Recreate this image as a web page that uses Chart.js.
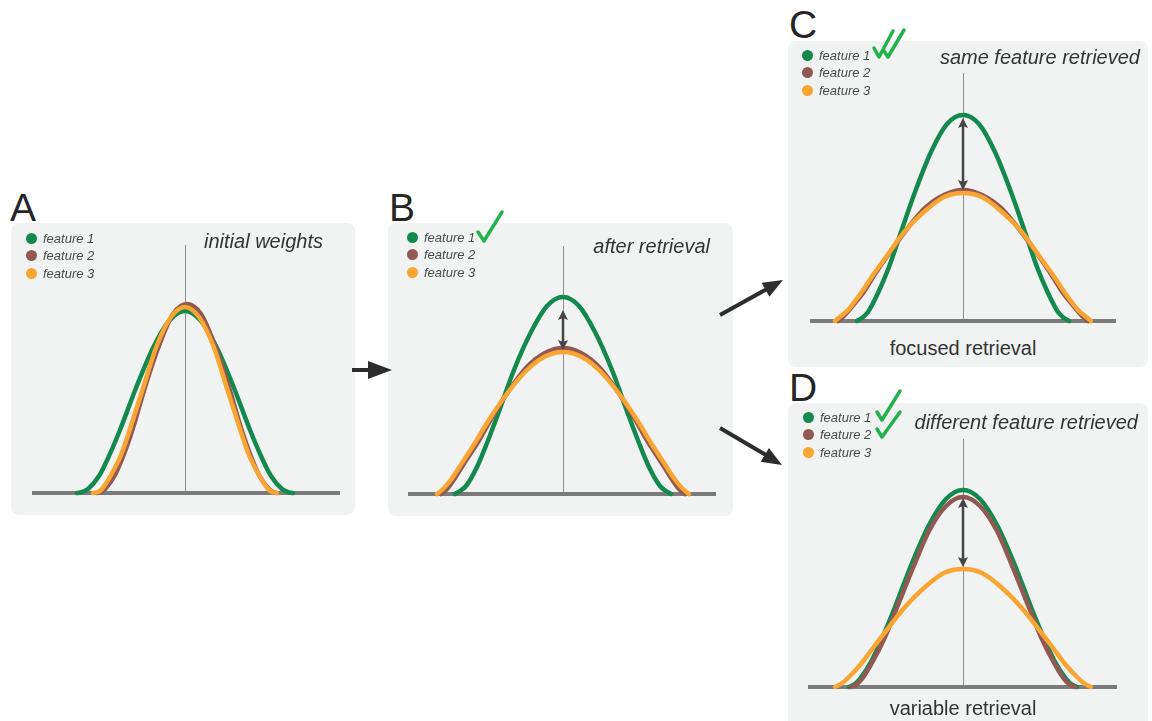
<!DOCTYPE html>
<html>
<head>
<meta charset="utf-8">
<script src="https://cdn.jsdelivr.net/npm/chart.js@4.4.0/dist/chart.umd.min.js"></script>
<style>
  html, body { margin: 0; padding: 0; background: #fff; }
  body { width: 1152px; height: 721px; position: relative; overflow: hidden; font-family: "Liberation Sans", Arial, sans-serif; color: #333; }
  .box { position: absolute; background: #f1f3f2; border-radius: 8px; }
  .plot { position: absolute; }
  .letter { position: absolute; font-size: 39px; line-height: 39px; color: #262626; }
  .legend { position: absolute; font-size: 13px; font-style: italic; color: #4a4a4a; }
  .legend div { height: 17.3px; line-height: 17px; position: relative; padding-left: 12px; }
  .legend span { position: absolute; left: -5.5px; top: 3px; width: 11px; height: 11px; border-radius: 50%; }
  .title { position: absolute; font-size: 20px; font-style: italic; line-height: 24px; color: #333; white-space: nowrap; }
  .sub { position: absolute; font-size: 20px; line-height: 24px; color: #333; white-space: nowrap; width: 300px; text-align: center; }
  svg { position: absolute; left: 0; top: 0; }
</style>
</head>
<body>

<div class="box" style="left:11px;top:223px;width:344px;height:292px;"></div>
<div class="box" style="left:388px;top:223px;width:345px;height:293px;"></div>
<div class="box" style="left:788px;top:41px;width:360px;height:326px;"></div>
<div class="box" style="left:788px;top:403px;width:360px;height:330px;"></div>

<div class="letter" style="left:10px;top:188px;">A</div>
<div class="letter" style="left:389px;top:188px;">B</div>
<div class="letter" style="left:789px;top:5px;">C</div>
<div class="letter" style="left:789px;top:368px;">D</div>

<div class="plot" style="left:22px;top:223px;"><canvas id="chartA" width="328" height="280"></canvas></div>
<div class="plot" style="left:398px;top:224px;"><canvas id="chartB" width="328" height="280"></canvas></div>
<div class="plot" style="left:800px;top:51px;"><canvas id="chartC" width="326" height="280"></canvas></div>
<div class="plot" style="left:798px;top:417px;"><canvas id="chartD" width="329" height="280"></canvas></div>

<div class="legend" style="left:31px;top:230px;">
  <div><span style="background:#13894d"></span>feature 1</div>
  <div><span style="background:#925853"></span>feature 2</div>
  <div><span style="background:#f8a531"></span>feature 3</div>
</div>
<div class="legend" style="left:412px;top:229px;">
  <div><span style="background:#13894d"></span>feature 1</div>
  <div><span style="background:#925853"></span>feature 2</div>
  <div><span style="background:#f8a531"></span>feature 3</div>
</div>
<div class="legend" style="left:807px;top:47px;">
  <div><span style="background:#13894d"></span>feature 1</div>
  <div><span style="background:#925853"></span>feature 2</div>
  <div><span style="background:#f8a531"></span>feature 3</div>
</div>
<div class="legend" style="left:808px;top:409px;">
  <div><span style="background:#13894d"></span>feature 1</div>
  <div><span style="background:#925853"></span>feature 2</div>
  <div><span style="background:#f8a531"></span>feature 3</div>
</div>

<div class="title" style="right:829px;top:229px;">initial weights</div>
<div class="title" style="right:442px;top:234px;">after retrieval</div>
<div class="title" style="right:12px;top:45px;">same feature retrieved</div>
<div class="title" style="right:14px;top:410px;">different feature retrieved</div>

<div class="sub" style="left:813px;top:336px;">focused retrieval</div>
<div class="sub" style="left:813px;top:696px;">variable retrieval</div>

<svg width="1152" height="721">
  <g fill="none" stroke="#22b24c" stroke-width="3.5" stroke-linecap="round" stroke-linejoin="round">
    <path d="M478,232 L484,241 L502,212"/>
    <path d="M874,48 L879,57 L893,31"/>
    <path d="M884,51 L888,57 L904,30"/>
    <path d="M877,412 L882,420 L900,391"/>
    <path d="M877,429 L882,437 L900,412"/>
  </g>
  <g stroke="#2d2d2d" stroke-width="4" fill="#2d2d2d">
    <line x1="352" y1="370" x2="370" y2="370"/>
    <polygon stroke="none" points="368,361 392,370 368,379"/>
    <line x1="720" y1="315" x2="767" y2="289"/>
    <polygon stroke="none" points="769.4,296.7 783,280 761.6,282.7"/>
    <line x1="720" y1="428" x2="766" y2="455"/>
    <polygon stroke="none" points="760.7,461.7 782,465 768.9,447.9"/>
  </g>
</svg>

<script>
/* ---- values: [position, weight] (0 = centre line / baseline) ---- */
// A: initial weights
const a_f1 = [[-108,0],[-103,1],[-97,4],[-86,17],[-76,37],[-65,63],[-49,105],[-32,145],[-16,172],[0,182],[16,172],[32,145],[49,105],[65,63],[76,37],[86,17],[97,4],[103,1],[108,0]];
const a_f2 = [[-88,0],[-84,1],[-79,5],[-70,18],[-61,39],[-52,65],[-39,109],[-25,150],[-12,179],[2,189],[16,179],[29,150],[43,109],[56,65],[65,39],[74,18],[83,5],[88,1],[92,0]];
const a_f3 = [[-92,0],[-87,1],[-83,4],[-74,18],[-64,38],[-55,64],[-41,108],[-28,148],[-14,176],[0,186],[14,176],[28,148],[41,108],[55,64],[64,38],[74,18],[83,4],[87,1],[92,0]];

// B: after retrieval
const b_f1 = [[-108,0],[-103,3],[-97,8],[-86,27],[-76,51],[-65,80],[-49,124],[-32,162],[-16,188],[0,197],[16,188],[32,162],[49,124],[65,80],[76,51],[86,27],[97,8],[103,3],[108,0]];
const b_f2 = [[-122,0],[-116,5],[-110,13],[-98,32],[-85,52],[-73,73],[-55,102],[-37,126],[-18,141],[0,146],[18,141],[37,126],[55,102],[73,73],[85,52],[98,32],[110,13],[116,5],[122,0]];
const b_f3 = [[-126,0],[-120,5],[-113,13],[-101,31],[-88,51],[-76,71],[-57,99],[-38,122],[-19,137],[0,142],[19,137],[38,122],[57,99],[76,71],[88,51],[101,31],[113,13],[120,5],[126,0]];

// C: same feature retrieved
const c_f1 = [[-106,0],[-101,3],[-95,9],[-85,28],[-74,54],[-64,83],[-48,129],[-32,169],[-16,197],[0,206],[16,197],[32,169],[48,129],[64,83],[74,54],[85,28],[95,9],[101,3],[106,0]];
const c_f2 = [[-125,0],[-119,5],[-113,12],[-100,28],[-88,47],[-75,66],[-56,92],[-38,113],[-19,126],[0,131],[19,126],[38,113],[56,92],[75,66],[88,47],[100,28],[113,12],[119,5],[125,0]];
const c_f3 = [[-128,0],[-122,5],[-115,11],[-102,28],[-90,46],[-77,64],[-58,90],[-38,110],[-19,124],[0,128],[19,124],[38,110],[58,90],[77,64],[90,46],[102,28],[115,11],[122,5],[128,0]];

// D: different feature retrieved
const d_f1 = [[-114,0],[-108,3],[-103,8],[-91,27],[-80,51],[-68,80],[-51,124],[-34,162],[-17,188],[0,197],[17,188],[34,162],[51,124],[68,80],[80,51],[91,27],[103,8],[108,3],[114,0]];
const d_f2 = [[-112,0],[-106,3],[-101,8],[-90,26],[-78,50],[-67,77],[-50,119],[-34,156],[-17,181],[0,190],[17,181],[34,156],[50,119],[67,77],[78,50],[90,26],[101,8],[106,3],[112,0]];
const d_f3 = [[-128,0],[-122,3],[-115,9],[-102,23],[-90,39],[-77,56],[-58,80],[-38,100],[-19,114],[0,118],[19,114],[38,100],[58,80],[77,56],[90,39],[102,23],[115,9],[122,3],[128,0]];

/* double arrows between peaks: [bottom, top] */
const arrowB = [144, 184];
const arrowC = [131, 203];
const arrowD = [120, 189];

const axisTop = 248;   // height of the centre line

const COLORS = { f1: '#13894d', f2: '#925853', f3: '#f8a531' };

/* baseline, centre line and the double arrow */
const guides = {
  id: 'guides',
  beforeDatasetsDraw(chart) {
    const { ctx, scales: { x, y } } = chart;
    const x0 = Math.round(x.getPixelForValue(0)) + 0.5;
    const y0 = y.getPixelForValue(0);
    ctx.save();
    ctx.strokeStyle = '#8e8e8e';
    ctx.lineWidth = 1;
    ctx.beginPath();
    ctx.moveTo(x0, y.getPixelForValue(axisTop));
    ctx.lineTo(x0, y0);
    ctx.stroke();
    ctx.strokeStyle = '#7b7b7b';
    ctx.lineWidth = 4;
    ctx.beginPath();
    ctx.moveTo(x.left, y0);
    ctx.lineTo(x.right, y0);
    ctx.stroke();
    ctx.restore();
  },
  afterDatasetsDraw(chart, args, opts) {
    if (!opts.arrow) return;
    const { ctx, scales: { x, y } } = chart;
    const x0 = x.getPixelForValue(0);
    const yb = y.getPixelForValue(opts.arrow[0]);
    const yt = y.getPixelForValue(opts.arrow[1]);
    ctx.save();
    ctx.strokeStyle = '#454545';
    ctx.fillStyle = '#454545';
    ctx.lineWidth = 2.5;
    ctx.beginPath();
    ctx.moveTo(x0, yt + 6);
    ctx.lineTo(x0, yb - 6);
    ctx.stroke();
    ctx.beginPath();
    ctx.moveTo(x0, yt); ctx.lineTo(x0 - 5, yt + 10); ctx.lineTo(x0, yt + 8); ctx.lineTo(x0 + 5, yt + 10);
    ctx.closePath(); ctx.fill();
    ctx.beginPath();
    ctx.moveTo(x0, yb); ctx.lineTo(x0 - 5, yb - 10); ctx.lineTo(x0, yb - 8); ctx.lineTo(x0 + 5, yb - 10);
    ctx.closePath(); ctx.fill();
    ctx.restore();
  }
};

function curve(data, color, order) {
  return {
    data,
    borderColor: color,
    borderWidth: 4.5,
    pointRadius: 0,
    fill: false,
    cubicInterpolationMode: 'monotone',
    borderCapStyle: 'round',
    borderJoinStyle: 'round',
    clip: false,
    order,
  };
}

function makeChart(id, f1, f2, f3, xmin, xmax, arrow) {
  const ctx = document.getElementById(id).getContext('2d');
  return new Chart(ctx, {
    type: 'line',
    data: {
      datasets: [
        curve(f1, COLORS.f1, 3),
        curve(f2, COLORS.f2, 2),
        curve(f3, COLORS.f3, 1),
      ],
    },
    options: {
      responsive: false,
      animation: false,
      events: [],
      layout: { padding: 10 },
      scales: {
        x: { type: 'linear', min: xmin, max: xmax, display: false },
        y: { min: 0, max: 260, display: false },
      },
      plugins: {
        legend: { display: false },
        tooltip: { enabled: false },
        guides: { arrow },
      },
    },
    plugins: [guides],
  });
}

makeChart('chartA', a_f1, a_f2, a_f3, -153, 155, null);
makeChart('chartB', b_f1, b_f2, b_f3, -155, 153, arrowB);
makeChart('chartC', c_f1, c_f2, c_f3, -153, 153, arrowC);
makeChart('chartD', d_f1, d_f2, d_f3, -155, 154, arrowD);
</script>
</body>
</html>
